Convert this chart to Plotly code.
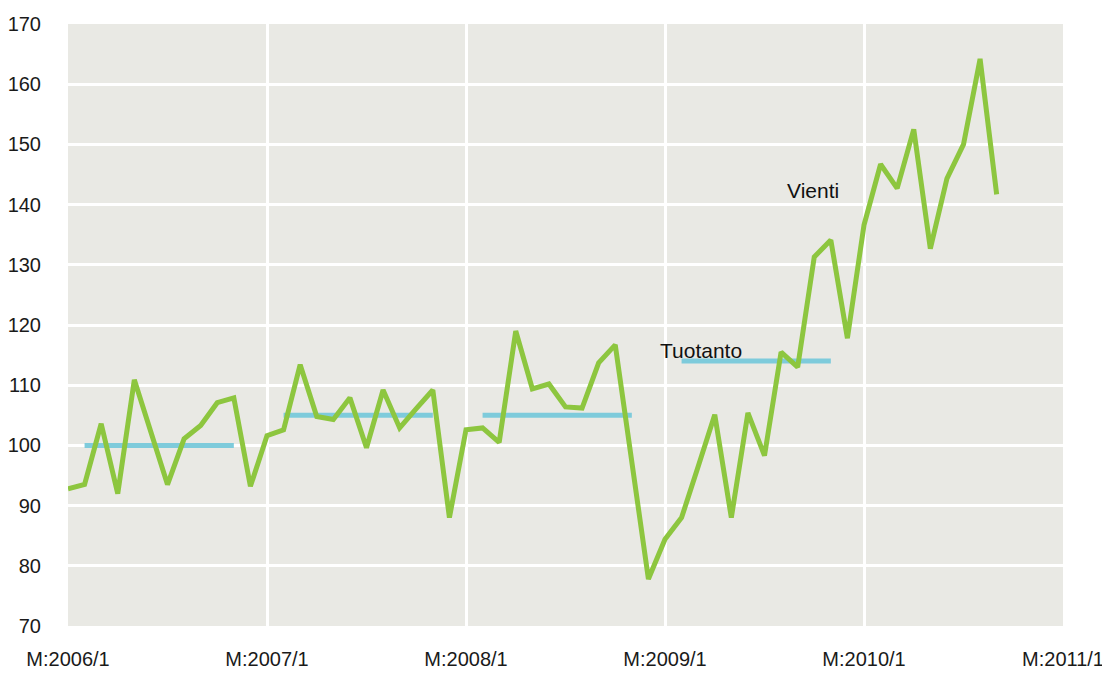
import plotly.graph_objects as go

# Data
tick_labels = ["M:2006/1", "M:2007/1", "M:2008/1", "M:2009/1", "M:2010/1", "M:2011/1"]
vienti = [92.8, 93.5, 103.6, 92.0, 110.9, 102.1, 93.5, 101.1, 103.3, 107.1, 107.9, 93.2,
          101.6, 102.6, 113.4, 104.8, 104.3, 107.9, 99.6, 109.2, 102.9, 106.1, 109.2, 88.0,
          102.6, 102.9, 100.5, 119.0, 109.4, 110.2, 106.4, 106.2, 113.7, 116.7, 97.2, 77.8,
          84.4, 88.0, 96.5, 105.1, 88.0, 105.4, 98.3, 115.5, 113.0, 131.3, 134.1, 117.8,
          136.6, 146.7, 142.7, 152.5, 132.7, 144.3, 150.0, 164.2, 141.7]
tuotanto_years = [2006, 2007, 2008, 2009]
tuotanto_avg = [100, 105, 105, 114]

months = list(range(len(vienti)))

# production yearly segments (Feb..Nov of each year)
px, py = [], []
for yr, v in zip(tuotanto_years, tuotanto_avg):
    start = (yr - 2006) * 12
    px += [start + 1, start + 10, None]
    py += [v, v, None]

fig = go.Figure()
fig.add_trace(go.Scatter(x=px, y=py, mode="lines",
                         line=dict(color="#7ECBDB", width=5), showlegend=False,
                         hoverinfo="skip"))
fig.add_trace(go.Scatter(x=months, y=vienti, mode="lines",
                         line=dict(color="#8DC63F", width=5), showlegend=False))

fig.add_annotation(x=44.9, y=142.3, text="Vienti", showarrow=False,
                   font=dict(size=21, color="#111111"))
fig.add_annotation(x=38.2, y=115.8, text="Tuotanto", showarrow=False,
                   font=dict(size=21, color="#111111"))

# page is rendered with an 8px body margin, so margins compensate for it
fig.update_layout(
    width=1110, height=673,
    margin=dict(l=60, r=55, t=16, b=55),
    paper_bgcolor="white",
    plot_bgcolor="#E9E9E4",
    font=dict(family="Liberation Sans, Arial, sans-serif", size=20, color="#1a1a1a"),
    xaxis=dict(range=[0, 60], tickvals=[0, 12, 24, 36, 48, 60], ticktext=tick_labels,
               showgrid=True, gridcolor="white", gridwidth=2.5, zeroline=False,
               showline=False, ticks="outside", ticklen=15, tickcolor="rgba(0,0,0,0)",
               automargin=False),
    yaxis=dict(range=[70, 170], dtick=10, showgrid=True, gridcolor="white", gridwidth=2.5,
               zeroline=False, showline=False, ticks="outside", ticklen=22,
               tickcolor="rgba(0,0,0,0)", automargin=False),
)

fig.write_html("out.html")
